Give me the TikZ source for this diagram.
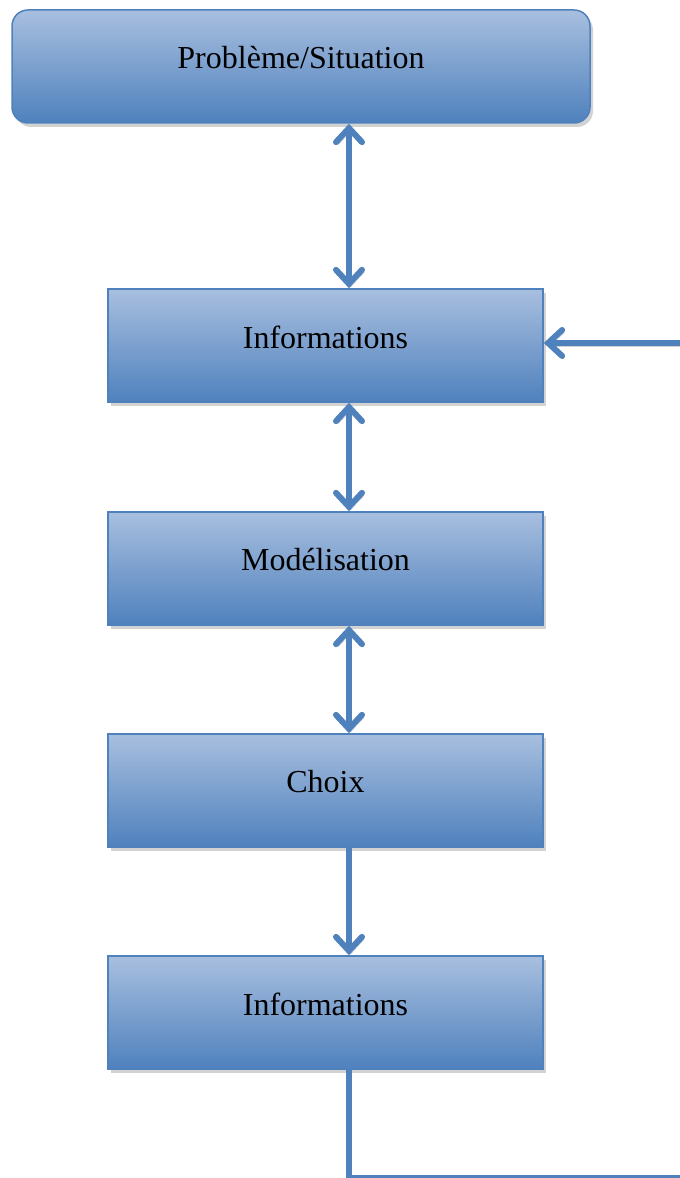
\documentclass[tikz,border=0pt]{standalone}
\usepackage{fontspec}
\setmainfont{Liberation Serif}
\usetikzlibrary{arrows.meta,shadows}

\definecolor{boxtop}{RGB}{168,191,223}
\definecolor{boxmid}{RGB}{140,170,212}
\definecolor{boxbot}{RGB}{79,129,189}
\definecolor{edge}{RGB}{79,129,189}
\definecolor{shade}{RGB}{210,210,210}

\tikzset{
  stepbox/.style={draw=edge, line width=1.5pt, top color=boxtop, middle color=boxmid, bottom color=boxbot,
    minimum width=435pt, minimum height=113pt, inner sep=0pt,
    drop shadow={shadow xshift=3pt, shadow yshift=-4pt, fill=shade, opacity=1}},
  headbox/.style={stepbox, rounded corners=16pt, minimum width=578pt},
  boxtext/.style={font=\fontsize{32}{38}\selectfont, yshift=8.5pt},
  >={Straight Barb[length=14pt,width=26pt,line cap=round]},
  link/.style={draw=edge, line width=6pt,
    preaction={draw=shade, transform canvas={shift={(2pt,-3pt)}}}},
}

\begin{document}
\begin{tikzpicture}[x=1pt,y=1pt]
  \useasboundingbox (0,0) rectangle (680,1178);
  \clip (0,0) rectangle (680,1178);

  % boxes
  \node[headbox, label={[boxtext]center:Problème/Situation}] (top) at (301,1111.5) {};
  \node[stepbox, label={[boxtext]center:Informations}] (info1) at (325.5,832.5) {};
  \node[stepbox, label={[boxtext]center:Modélisation}] (model) at (325.5,609.5) {};
  \node[stepbox, label={[boxtext]center:Choix}] (choix) at (325.5,387.5) {};
  \node[stepbox, label={[boxtext]center:Informations}] (info2) at (325.5,165.5) {};

  % vertical axis of the connectors and corners of the feedback loop
  \coordinate (ax) at (349,0);
  \coordinate (c1) at (349,0);
  \coordinate (c2) at (683,0);
  \coordinate (c3) at (683,835);

  % connectors
  \draw[link,<->] (top.south -| ax) -- (info1.north -| ax);
  \draw[link,<->] (info1.south -| ax) -- (model.north -| ax);
  \draw[link,<->] (model.south -| ax) -- (choix.north -| ax);
  \draw[link,->] (choix.south -| ax) -- (info2.north -| ax);

  % feedback loop back to the first information step
  \draw[link,->] (info2.south -| ax) -- (c1) -- (c2) -- (c3) -- (info1.east |- c3);
\end{tikzpicture}
\end{document}
